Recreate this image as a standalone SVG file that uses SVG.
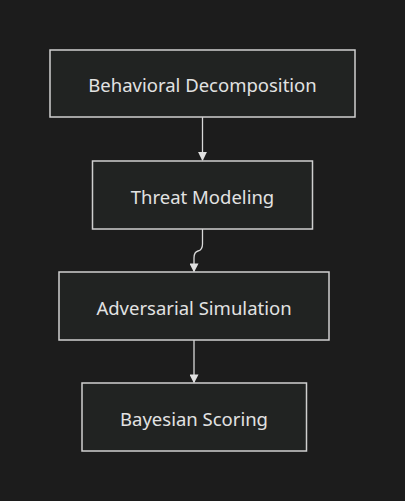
<svg xmlns="http://www.w3.org/2000/svg" width="405" height="501" viewBox="0 0 405 501">
<defs>
<style>
.node rect{fill:#212322;stroke:#cfcfcf;stroke-width:1.5}
.node text{fill:#e2e2e2;font-family:"Noto Sans","Open Sans",sans-serif;font-size:18.5px;text-anchor:middle;dominant-baseline:central}
.edge{fill:none;stroke:#d8d8d8;stroke-width:1.3}
</style>
<marker id="arr" viewBox="0 0 10 10" refX="9" refY="5" markerWidth="9" markerHeight="9" orient="auto" markerUnits="userSpaceOnUse">
<path d="M0,0L10,5L0,10z" fill="#e0e0e0"/>
</marker>
</defs>
<rect width="405" height="501" fill="#1c1c1c"/>
<g id="edges">
<path class="edge" d="M202.5,117V160" marker-end="url(#arr)"/>
<path class="edge" d="M202.5,229V244Q202.5,250 198,251Q194,252 194,258V271.5" marker-end="url(#arr)"/>
<path class="edge" d="M194,340V382.5" marker-end="url(#arr)"/>
</g>
<g id="n1" class="node"><rect x="50" y="50" width="305" height="67"/><text x="202.5" y="84">Behavioral Decomposition</text></g>
<g id="n2" class="node"><rect x="92.5" y="161" width="220" height="68"/><text x="202.5" y="196">Threat Modeling</text></g>
<g id="n3" class="node"><rect x="59" y="272" width="270" height="68"/><text x="194" y="307">Adversarial Simulation</text></g>
<g id="n4" class="node"><rect x="82" y="383" width="224.5" height="68"/><text x="194" y="418">Bayesian Scoring</text></g>
</svg>
